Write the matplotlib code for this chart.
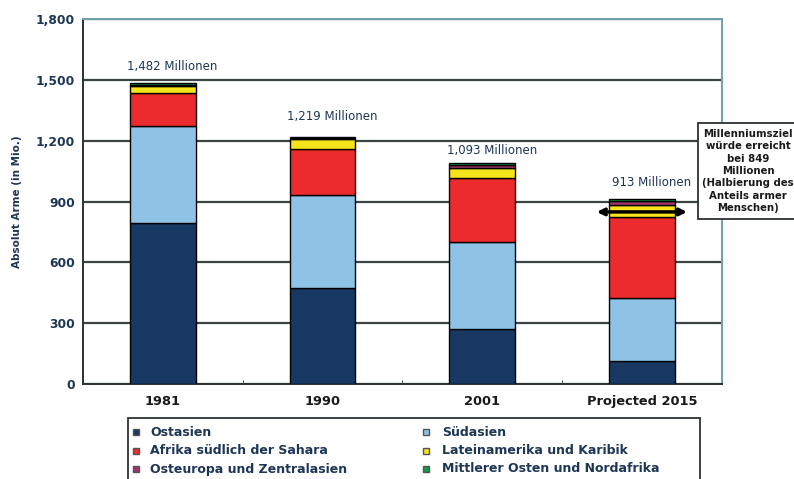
import matplotlib.pyplot as plt
from matplotlib.lines import Line2D
from matplotlib.patches import Rectangle

plt.rcParams['font.family'] = ['DejaVu Sans']

# Daten (Mio. Menschen unter 1 $/Tag)
jahre = ['1981', '1990', '2001', 'Projected 2015']
ostasien = [796, 472, 271, 115]
suedasien = [475, 462, 431, 310]
afrika = [164, 227, 313, 400]
lateinamerika = [36, 49, 50, 58]
osteuropa = [3, 2, 17, 22]
nahost = [9, 6, 7, 8]
gesamt_labels = ['1,482 Millionen', '1,219 Millionen', '1,093 Millionen', '913 Millionen']
gesamt = [1482, 1219, 1093, 913]
ziel = 849

serien = [
    ('Ostasien', ostasien, '#173863'),
    ('Südasien', suedasien, '#8ec3e6'),
    ('Afrika südlich der Sahara', afrika, '#ec2b2f'),
    ('Lateinamerika und Karibik', lateinamerika, '#f5e41c'),
    ('Osteuropa und Zentralasien', osteuropa, '#a3336b'),
    ('Mittlerer Osten und Nordafrika', nahost, '#109a4a'),
]

text_farbe = '#1d3656'
W, H = 794, 479

fig = plt.figure(figsize=(W / 100, H / 100), dpi=100)
ax = fig.add_axes([0.1045, 0.1983, 0.8045, 0.7617])

x = list(range(len(jahre)))
unten = [0] * len(jahre)
for name, werte, farbe in serien:
    ax.bar(x, werte, width=0.41, bottom=unten, color=farbe,
           edgecolor='black', linewidth=1.0, zorder=3)
    unten = [u + w for u, w in zip(unten, werte)]

# Beschriftung über den Balken
offsets = [85, 100, 60, 83]
for i, (lab, tot) in enumerate(zip(gesamt_labels, gesamt)):
    ax.text(i + 0.06, tot + offsets[i], lab, ha='center', va='center',
            fontsize=8.5, color=text_farbe, zorder=4)

# Millenniumsziel-Pfeil
ax.annotate('', xy=(2.70, ziel), xytext=(3.30, ziel),
            arrowprops=dict(arrowstyle='<->', lw=2.5, color='black',
                            mutation_scale=10), zorder=5)

ax.set_xlim(-0.5, 3.5)
ax.set_ylim(0, 1800)
ax.set_yticks(range(0, 1801, 300))
ax.set_yticklabels([f'{v:,}' for v in range(0, 1801, 300)],
                   fontsize=8.8, fontweight='bold', color=text_farbe)
ax.set_xticks(x)
ax.set_xticklabels(jahre, fontsize=9.4, fontweight='bold', color='#1a1a1a')
ax.set_xticks([0.5, 1.5, 2.5], minor=True)
ax.tick_params(axis='y', which='major', length=0, pad=6)
ax.tick_params(axis='x', which='major', length=0, pad=8)
ax.tick_params(axis='x', which='minor', direction='in', length=3, color='#333333')
ax.set_ylabel('Absolut Arme (in Mio.)', fontsize=7.5, fontweight='bold',
              color=text_farbe, labelpad=10)

ax.grid(axis='y', color='#3d4446', linewidth=1.6, zorder=1)
for s in ['left', 'bottom']:
    ax.spines[s].set_color('#2b3235')
    ax.spines[s].set_linewidth(1.4)
for s in ['top', 'right']:
    ax.spines[s].set_color('#6aa2ae')
    ax.spines[s].set_linewidth(1.4)


def px(xp, yp):
    # Pixel (oben links) -> Figurenkoordinaten
    return xp / W, 1 - yp / H


# Kasten rechts
x0, y0 = px(698, 219)
fig.add_artist(Rectangle((x0, y0), (800 - 698) / W, (219 - 123) / H,
                         transform=fig.transFigure, facecolor='white',
                         edgecolor='#2b3235', linewidth=1.3, zorder=10))
fig.text(*px(748, 171),
         'Millenniumsziel\nwürde erreicht\nbei 849\nMillionen\n(Halbierung des\nAnteils armer\nMenschen)',
         ha='center', va='center', fontsize=7.3, fontweight='bold',
         color='#1a1a1a', linespacing=1.3, zorder=11)

# Legende (von Hand gesetzt)
lx0, ly0 = px(128, 486)
fig.add_artist(Rectangle((lx0, ly0), (700 - 128) / W, (486 - 418) / H,
                         transform=fig.transFigure, facecolor='white',
                         edgecolor='#2b3235', linewidth=1.3, zorder=10))
spalten = [(136, 150), (426, 442)]
zeilen = [432, 451, 469]
for k, (name, werte, farbe) in enumerate(serien):
    mx, tx = spalten[k % 2]
    yy = zeilen[k // 2]
    fig.add_artist(Line2D([mx / W], [1 - yy / H], transform=fig.transFigure,
                          linestyle='none', marker='s', markersize=5,
                          markerfacecolor=farbe, markeredgecolor='#555555',
                          zorder=11))
    fig.text(*px(tx, yy), name, ha='left', va='center', fontsize=9,
             fontweight='bold', color=text_farbe, zorder=11)

fig.savefig('out.png', dpi=100, facecolor='white')
